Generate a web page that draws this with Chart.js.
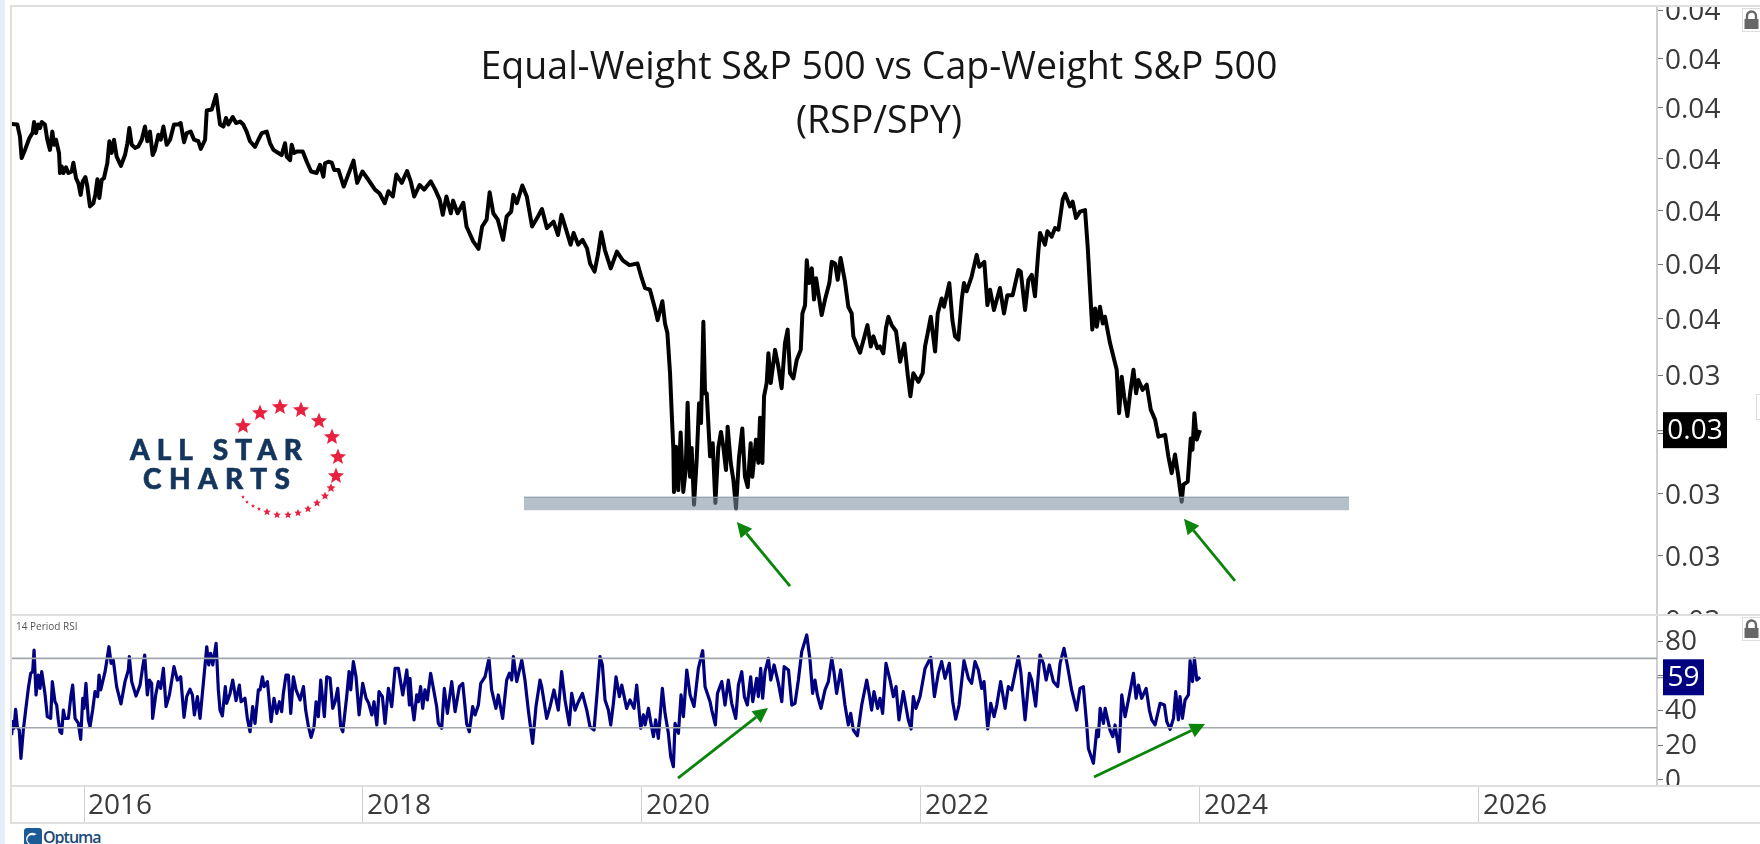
<!DOCTYPE html>
<html>
<head>
<meta charset="utf-8">
<title>Equal-Weight S&amp;P 500 vs Cap-Weight S&amp;P 500</title>
<script src="https://cdn.jsdelivr.net/npm/chart.js@4/dist/chart.umd.js"></script>
<style>
html,body{margin:0;padding:0;background:#fff;width:1760px;height:844px;overflow:hidden;font-family:"Open Sans",sans-serif}
canvas{position:absolute;left:0;display:block}
#priceCanvas{top:6px;z-index:1}
#rsiCanvas{top:615px;z-index:2;background:#fff}
.abs{position:absolute}
.hline{position:absolute;height:2px;background:#dfdfdf;z-index:4}
#strip{left:0;top:0;width:5px;height:844px;background:#e4eef8;z-index:5}
#title{left:400px;width:958px;top:38px;text-align:center;font-size:37.5px;line-height:54px;color:#161616;z-index:6}
#rsiName{left:16px;top:619px;font-size:10px;color:#555;z-index:6}
#axisCover{left:1658px;top:786px;width:102px;height:58px;background:#fff;z-index:3}
.lock{position:absolute;left:1742px;width:18px;height:24px;box-sizing:border-box;border:1px solid #ddd;border-right:none;background:#fff;z-index:6}
#logo{left:100px;top:380px;z-index:6}
#optuma{left:24px;top:828px;z-index:6;height:16px;overflow:hidden;display:flex;align-items:flex-start}
#optuma b{font-size:16px;line-height:18px;color:#1b4a78;letter-spacing:-1px;font-weight:600;margin-left:1px}
#sideBox{left:1756px;top:394px;width:4px;height:26px;box-sizing:border-box;border:1px solid #ddd;border-right:none;z-index:6}
</style>
</head>
<body>
<div class="abs" id="strip"></div>
<canvas id="priceCanvas" width="1760" height="634"></canvas>
<canvas id="rsiCanvas" width="1760" height="208"></canvas>
<div class="abs" id="axisCover"></div>
<div class="hline" style="left:10px;top:5px;width:1750px"></div>
<div class="hline" style="left:10px;top:614px;width:1750px"></div>
<div class="hline" style="left:10px;top:785px;width:1750px"></div>
<div class="hline" style="left:10px;top:822px;width:1750px"></div>
<div class="abs" style="left:10px;top:5px;width:2px;height:819px;background:#dfdfdf;z-index:4"></div>
<div class="abs" id="title">Equal-Weight S&amp;P 500 vs Cap-Weight S&amp;P 500<br>(RSP/SPY)</div>
<div class="abs" id="rsiName">14 Period RSI</div>
<div class="lock" style="top:8px"><svg width="17" height="22" viewBox="0 0 17 22"><path d="M4 10V7a4.5 4.5 0 0 1 9 0v3" fill="none" stroke="#666" stroke-width="2.4"/><rect x="1.5" y="10" width="14" height="10" fill="#666"/></svg></div>
<div class="lock" style="top:617px"><svg width="17" height="22" viewBox="0 0 17 22"><path d="M4 10V7a4.5 4.5 0 0 1 9 0v3" fill="none" stroke="#666" stroke-width="2.4"/><rect x="1.5" y="10" width="14" height="10" fill="#666"/></svg></div>
<div class="abs" id="sideBox"></div>
<svg class="abs" id="logo" width="280" height="160" viewBox="0 0 280 160">
  <g id="logoStars" fill="#e8213f"></g>
  <text x="30" y="80" textLength="172" lengthAdjust="spacing" font-family="Lato" font-weight="900" font-size="28" fill="#14365c" stroke="#14365c" stroke-width=".6">ALL STAR</text>
  <text x="43" y="109" textLength="147" lengthAdjust="spacing" font-family="Lato" font-weight="900" font-size="28" fill="#14365c" stroke="#14365c" stroke-width=".6">CHARTS</text>
</svg>
<div class="abs" id="optuma"><svg width="18" height="18" viewBox="0 0 17 17"><rect width="17" height="17" rx="3" fill="#1b5c96"/><path d="M4 15a6 6 0 0 1 8-9l-3 1a4 4 0 0 0-3 8z" fill="#fff"/></svg><b>Optuma</b></div>

<script>
// ---------- chart text ----------
const xTickYears = [2016, 2018, 2020, 2022, 2024, 2026];
const priceTicks = [0.030, 0.031, 0.032, 0.033, 0.034, 0.035, 0.036, 0.037, 0.038, 0.039, 0.040, 0.041];
const rsiTicks = [0, 20, 40, 60, 80];
const rsiLevels = [70, 30];

// ---------- RSP/SPY ratio ----------
const priceYears = [
2015.481,2015.522,2015.541,2015.553,2015.577,2015.608,2015.632,2015.642,2015.656,2015.670,
2015.685,2015.697,2015.720,2015.737,2015.756,2015.773,2015.785,2015.799,2015.821,2015.828,
2015.840,2015.852,2015.871,2015.888,2015.912,2015.924,2015.943,2015.960,2015.976,2015.991,
2016.010,2016.024,2016.043,2016.067,2016.081,2016.096,2016.110,2016.127,2016.143,2016.167,
2016.182,2016.198,2016.215,2016.234,2016.265,2016.294,2016.311,2016.325,2016.342,2016.366,
2016.390,2016.414,2016.437,2016.454,2016.473,2016.492,2016.509,2016.533,2016.550,2016.569,
2016.593,2016.617,2016.645,2016.676,2016.693,2016.717,2016.736,2016.765,2016.789,2016.820,
2016.837,2016.868,2016.880,2016.916,2016.947,2016.975,2016.999,2017.018,2017.035,2017.066,
2017.090,2017.119,2017.142,2017.166,2017.190,2017.226,2017.250,2017.274,2017.310,2017.334,
2017.358,2017.393,2017.417,2017.441,2017.453,2017.477,2017.489,2017.506,2017.525,2017.568,
2017.597,2017.628,2017.668,2017.692,2017.716,2017.728,2017.752,2017.776,2017.793,2017.824,
2017.862,2017.894,2017.932,2017.958,2017.996,2018.038,2018.086,2018.118,2018.156,2018.182,
2018.214,2018.239,2018.278,2018.316,2018.342,2018.367,2018.406,2018.438,2018.486,2018.518,
2018.550,2018.572,2018.598,2018.630,2018.646,2018.678,2018.719,2018.742,2018.790,2018.828,
2018.854,2018.886,2018.908,2018.934,2018.966,2019.004,2019.030,2019.062,2019.078,2019.103,
2019.142,2019.174,2019.212,2019.254,2019.283,2019.318,2019.366,2019.398,2019.423,2019.456,
2019.488,2019.510,2019.542,2019.574,2019.606,2019.628,2019.660,2019.686,2019.708,2019.734,
2019.776,2019.820,2019.862,2019.910,2019.968,
2019.998,2020.022,2020.057,2020.093,2020.112,2020.124,2020.146,2020.165,2020.182,2020.201,
2020.213,2020.225,2020.229,2020.244,2020.260,2020.277,2020.296,2020.313,2020.327,2020.344,
2020.356,2020.373,2020.392,2020.409,2020.423,2020.440,2020.452,2020.464,2020.488,2020.507,
2020.526,2020.547,2020.566,2020.583,2020.602,2020.614,2020.636,2020.655,2020.674,2020.695,
2020.719,2020.738,2020.758,2020.779,2020.791,2020.817,2020.834,2020.846,2020.863,2020.875,
2020.894,2020.906,2020.923,2020.954,2020.977,2021.001,2021.025,2021.044,2021.061,2021.085,
2021.109,2021.138,2021.150,2021.169,2021.181,2021.197,2021.217,2021.233,2021.248,2021.288,
2021.312,2021.343,2021.360,2021.384,2021.403,2021.424,2021.455,2021.479,2021.503,2021.515,
2021.539,2021.563,2021.592,2021.616,2021.640,2021.659,2021.687,2021.706,2021.730,2021.749,
2021.766,2021.790,2021.821,2021.850,2021.881,2021.905,2021.924,2021.945,2021.981,2022.012,
2022.029,2022.046,2022.070,2022.101,2022.120,
2022.148,2022.165,2022.203,2022.225,2022.244,2022.268,2022.292,2022.308,2022.327,2022.363,
2022.399,2022.418,2022.454,2022.476,2022.495,2022.523,2022.566,2022.595,2022.619,2022.657,
2022.698,2022.715,2022.746,2022.770,2022.794,2022.817,2022.841,2022.853,2022.889,2022.906,
2022.937,2022.961,2022.985,2023.016,2023.033,2023.068,2023.087,2023.111,2023.140,2023.176,
2023.195,2023.212,2023.228,2023.248,2023.260,2023.283,2023.303,2023.319,2023.355,2023.403,
2023.420,2023.439,2023.456,2023.480,2023.499,2023.523,2023.542,2023.558,2023.589,2023.618,
2023.647,2023.678,2023.702,2023.750,2023.773,2023.797,2023.821,2023.845,2023.869,2023.881,
2023.912,2023.934,2023.946,2023.960,2023.977,2024.000
];
const priceValues = [
.03868,.03867,.03843,.03801,.03817,.03840,.03851,.03872,.03850,.03867,
.03860,.03872,.03867,.03837,.03817,.03853,.03827,.03837,.03811,.03772,
.03785,.03772,.03783,.03772,.03775,.03792,.03762,.03752,.03730,.03756,
.03764,.03746,.03708,.03714,.03730,.03760,.03724,.03759,.03762,.03791,
.03834,.03811,.03837,.03804,.03786,.03807,.03830,.03860,.03827,.03821,
.03824,.03837,.03863,.03834,.03853,.03807,.03817,.03847,.03837,.03863,
.03827,.03837,.03867,.03867,.03870,.03832,.03850,.03853,.03837,.03834,
.03819,.03837,.03895,.03897,.03926,.03867,.03863,.03880,.03867,.03882,
.03870,.03873,.03867,.03853,.03834,.03823,.03837,.03850,.03853,.03830,
.03817,.03811,.03807,.03830,.03804,.03797,.03827,.03811,.03814,.03814,
.03794,.03775,.03772,.03788,.03765,.03791,.03794,.03792,.03778,.03778,
.03746,.03769,.03796,.03753,.03775,.03759,.03740,.03733,.03714,.03737,
.03727,.03769,.03753,.03776,.03756,.03727,.03749,.03740,.03756,.03740,
.03721,.03692,.03727,.03695,.03719,.03695,.03715,.03670,.03642,.03628,
.03670,.03683,.03735,.03695,.03683,.03645,.03689,.03698,.03730,.03714,
.03748,.03727,.03670,.03689,.03703,.03667,.03679,.03654,.03692,.03664,
.03636,.03658,.03636,.03645,.03629,.03601,.03586,.03620,.03659,.03626,
.03592,.03623,.03607,.03598,.03601,
.03574,.03556,.03553,.03519,.03498,.03510,.03532,.03492,.03475,.03404,
.03335,.03273,.03203,.03278,.03206,.03302,.03203,.03239,.03353,.03228,
.03276,.03182,.03256,.03352,.03318,.03495,.03369,.03369,.03262,.03284,
.03185,.03276,.03303,.03278,.03239,.03312,.03251,.03223,.03176,.03259,
.03309,.03228,.03211,.03284,.03228,.03290,.03251,.03327,.03251,.03364,
.03387,.03439,.03387,.03445,.03416,.03378,.03457,.03481,.03404,.03395,
.03427,.03445,.03510,.03525,.03607,.03565,.03592,.03535,.03574,.03507,
.03535,.03565,.03604,.03601,.03571,.03611,.03568,.03522,.03510,.03469,
.03454,.03440,.03466,.03489,.03451,.03469,.03448,.03451,.03439,.03484,
.03504,.03489,.03478,.03424,.03456,.03401,.03364,.03404,.03389,.03404,
.03451,.03472,.03504,.03442,.03510,
.03537,.03522,.03565,.03498,.03469,.03463,.03535,.03565,.03550,.03577,
.03617,.03595,.03604,.03525,.03553,.03516,.03556,.03510,.03543,.03543,
.03589,.03586,.03516,.03571,.03580,.03541,.03623,.03658,.03636,.03661,
.03651,.03667,.03664,.03721,.03732,.03708,.03717,.03686,.03698,.03701,
.03632,.03553,.03481,.03519,.03486,.03522,.03492,.03504,.03457,.03410,
.03335,.03398,.03364,.03330,.03369,.03410,.03369,.03392,.03375,.03384,
.03341,.03324,.03295,.03298,.03262,.03234,.03265,.03228,.03187,.03215,
.03220,.03292,.03273,.03335,.03290,.03306
];

// ---------- 14 period RSI ----------
const rsiYears = [
2015.481,2015.489,2015.498,2015.510,2015.522,2015.536,2015.548,2015.565,2015.582,2015.601,
2015.618,2015.632,2015.642,2015.656,2015.673,2015.685,2015.697,2015.720,2015.737,2015.761,
2015.773,2015.792,2015.804,2015.816,2015.828,2015.840,2015.852,2015.864,2015.888,2015.907,
2015.919,2015.936,2015.960,2015.976,2015.991,2016.000,2016.014,2016.031,2016.043,2016.062,
2016.079,2016.098,2016.108,2016.120,2016.151,2016.179,2016.194,2016.210,2016.234,2016.265,
2016.294,2016.318,2016.325,2016.342,2016.373,2016.402,2016.421,2016.435,2016.454,2016.469,
2016.485,2016.492,2016.514,2016.533,2016.550,2016.569,2016.588,2016.612,2016.645,2016.669,
2016.693,2016.717,2016.736,2016.760,2016.777,2016.791,2016.813,2016.832,2016.851,2016.880,
2016.894,2016.908,2016.923,2016.947,2016.963,2016.975,2016.992,2017.013,2017.023,2017.047,
2017.066,2017.090,2017.114,2017.126,2017.154,2017.171,2017.190,2017.209,2017.226,2017.250,
2017.262,2017.279,2017.291,2017.315,2017.341,2017.362,2017.382,2017.401,2017.417,2017.429,
2017.448,2017.465,2017.482,2017.501,2017.520,2017.549,2017.573,2017.589,2017.609,2017.628,
2017.649,2017.664,2017.680,2017.697,2017.723,2017.740,2017.764,2017.783,2017.800,2017.819,
2017.840,2017.855,2017.883,2017.900,2017.912,2017.931,2017.950,2017.972,2017.998,2018.022,
2018.041,2018.063,2018.079,2018.099,2018.115,2018.139,2018.158,2018.182,2018.206,2018.230,
2018.254,2018.285,2018.314,2018.333,
2018.337,2018.349,2018.366,2018.385,2018.397,2018.413,2018.428,2018.444,2018.461,2018.485,
2018.509,2018.528,2018.540,2018.564,2018.583,2018.605,2018.636,2018.660,2018.691,2018.715,
2018.743,2018.762,2018.786,2018.803,2018.827,2018.844,2018.875,2018.903,2018.922,2018.953,
2018.970,2019.001,2019.030,2019.049,2019.066,2019.078,2019.102,2019.138,2019.161,2019.185,
2019.216,2019.240,2019.269,2019.281,2019.317,2019.341,2019.369,2019.400,2019.424,2019.448,
2019.479,2019.496,2019.520,2019.544,2019.573,2019.604,2019.627,2019.656,2019.680,2019.699,
2019.716,2019.735,2019.759,2019.776,2019.795,2019.814,2019.838,2019.855,2019.890,2019.914,
2019.943,2019.962,2019.991,2020.010,2020.022,2020.046,2020.062,2020.082,2020.098,2020.117,
2020.146,2020.165,2020.189,2020.206,2020.225,2020.237,2020.261,2020.280,2020.297,2020.321,
2020.345,2020.373,2020.404,2020.435,2020.452,2020.488,2020.500,2020.526,2020.541,2020.572,
2020.595,2020.619,2020.643,2020.672,2020.691,2020.715,2020.734,2020.755,2020.779,2020.794,
2020.822,2020.834,2020.851,2020.865,2020.882,2020.906,2020.923,2020.947,2020.978,2021.002,
2021.019,2021.050,2021.074,2021.097,2021.121,2021.145,2021.181,
2021.204,2021.223,2021.240,2021.257,2021.283,2021.312,2021.336,2021.360,2021.376,2021.395,
2021.424,2021.455,2021.479,2021.496,2021.515,2021.544,2021.575,2021.611,2021.630,2021.646,
2021.663,2021.689,2021.706,2021.725,2021.749,2021.778,2021.802,2021.821,2021.842,2021.873,
2021.909,2021.929,2021.945,2021.964,2021.993,2022.029,2022.070,2022.096,2022.124,2022.148,
2022.172,2022.203,2022.227,2022.249,2022.273,2022.308,2022.340,2022.363,2022.387,2022.411,
2022.435,2022.452,2022.478,2022.500,2022.524,2022.543,2022.571,2022.603,2022.626,2022.650,
2022.674,2022.698,2022.715,2022.746,2022.777,2022.794,2022.822,2022.853,2022.877,2022.897,
2022.920,2022.949,2022.980,2022.997,2023.025,2023.049,2023.080,2023.116,2023.140,2023.164,
2023.188,2023.200,2023.236,2023.260,2023.272,2023.284,2023.308,2023.320,2023.355,2023.375,
2023.391,2023.420,2023.439,2023.463,2023.487,2023.523,2023.542,2023.559,2023.582,2023.614,
2023.637,2023.654,2023.678,2023.714,2023.745,2023.762,2023.786,2023.810,2023.826,2023.845,
2023.857,2023.874,2023.893,2023.917,2023.929,2023.946,2023.960,2023.977,2024.001
];
const rsiValues = [
25.8,33.5,29.7,40.6,30.6,28.7,12.4,28.7,40.2,52.7,
61.4,62.3,74.8,48.9,60.4,52.7,62.3,49.8,36.4,35.4,
56.6,45.0,43.1,34.5,27.7,26.8,40.2,35.4,35.4,48.9,
54.6,35.4,32.5,23.3,47.0,41.2,55.6,34.5,30.6,40.2,
50.8,47.9,60.4,51.8,62.3,76.7,67.1,69.0,53.7,43.7,
56.6,63.3,71.0,56.6,48.3,54.6,65.2,71.9,48.9,57.5,
55.6,35.4,48.9,56.6,52.7,64.2,42.2,48.9,65.2,57.5,
59.4,36.0,47.9,52.2,48.9,37.4,47.9,35.4,51.8,76.7,
66.2,72.9,66.2,78.7,51.8,40.2,36.8,53.7,44.1,49.8,
57.5,45.6,54.6,45.0,47.0,35.4,27.7,42.2,32.5,51.8,
51.8,59.4,53.7,56.6,33.5,47.0,38.3,45.0,39.3,49.8,
60.4,60.4,38.3,59.4,51.8,46.0,53.7,40.2,30.6,24.5,
30.6,45.0,36.4,57.5,36.4,59.4,58.5,41.2,45.0,52.7,
30.6,27.7,47.9,62.3,51.8,68.1,59.4,37.4,55.6,47.0,
44.1,37.4,45.0,31.6,50.8,47.9,32.5,52.7,42.2,64.2,
64.2,48.9,63.3,43.1,
58.5,45.0,34.5,48.9,45.0,53.7,41.2,51.8,46.0,61.4,
50.8,42.2,32.5,29.7,52.7,38.3,56.6,39.3,53.7,55.6,
32.5,27.7,42.2,37.4,43.1,55.6,59.4,70.0,51.8,41.2,
48.9,35.4,57.5,61.4,57.5,71.0,56.6,69.0,57.5,40.2,
21.0,42.2,57.5,53.7,35.4,42.2,51.8,40.2,62.3,46.0,
31.6,49.8,40.2,45.0,49.8,40.2,30.6,28.7,51.8,71.0,
66.2,46.0,40.2,31.6,44.1,59.4,47.9,54.6,41.2,46.0,
41.2,54.6,29.7,37.4,31.6,41.2,33.5,24.9,34.5,23.9,
52.7,38.3,26.8,13.3,7.6,32.5,26.8,48.9,36.4,63.3,
48.9,42.2,64.2,74.4,53.7,45.0,40.2,31.6,49.8,56.6,
43.1,57.5,44.1,35.4,54.6,62.3,47.9,43.1,59.4,45.0,
58.5,47.9,64.2,47.0,62.3,70.0,57.5,66.2,55.6,45.0,
65.2,63.3,43.1,44.1,57.5,73.9,83.5,
69.4,49.8,57.5,48.9,41.2,51.8,56.6,70.0,62.3,49.8,
63.3,43.1,31.6,38.3,28.7,25.4,43.1,57.5,48.9,40.2,
50.8,41.2,47.0,38.3,67.1,57.5,47.9,53.7,34.5,50.8,
34.5,29.3,47.9,41.2,47.9,64.2,70.6,47.9,61.4,68.1,
58.5,67.1,45.0,34.9,43.1,68.7,58.5,55.6,68.1,63.3,
52.7,56.6,29.3,44.1,36.4,43.1,56.6,41.2,53.7,51.8,
61.4,71.0,62.3,34.5,61.4,57.5,42.5,71.9,67.1,57.5,
66.2,56.6,53.7,67.1,75.8,66.2,51.8,40.2,52.7,53.7,
31.6,18.1,9.5,28.7,24.9,41.2,32.5,41.2,28.7,24.9,
31.6,16.2,48.9,36.4,46.0,61.4,47.0,54.6,47.0,52.7,
40.2,34.5,31.6,44.1,43.1,33.5,29.1,35.4,50.8,34.5,
47.9,35.4,46.0,48.9,68.7,56.6,70.0,57.5,59.1
];

// ---------- annotations, in data units ----------
const bandYears = [2019.154, 2025.068];
const bandValues = [0.03173, 0.03195];
const priceArrows = [
  {from: [2021.061, 0.03052], to: [2020.680, 0.03154]},
  {from: [2024.251, 0.03060], to: [2023.885, 0.03159]}
];
const rsiArrows = [
  {from: [2020.258, 1.0], to: [2020.903, 41.4]},
  {from: [2023.240, 1.6], to: [2024.036, 32.2]}
];

const xMin = 2015.4767, xMax = 2027.276;
const FONT = '"Open Sans", sans-serif';
const GREEN = '#0b840b';

function zip(xs, ys) { return xs.map((x, i) => ({x, y: ys[i]})); }

function drawArrows(chart, arrows) {
  const {ctx, scales:{x, y}} = chart;
  ctx.save();
  ctx.strokeStyle = GREEN; ctx.fillStyle = GREEN; ctx.lineWidth = 2.8;
  arrows.forEach(a => {
    const x1 = x.getPixelForValue(a.from[0]), y1 = y.getPixelForValue(a.from[1]);
    const x2 = x.getPixelForValue(a.to[0]), y2 = y.getPixelForValue(a.to[1]);
    const ang = Math.atan2(y2 - y1, x2 - x1), L = 15, W = 7.5;
    const bx = x2 - L * Math.cos(ang), by = y2 - L * Math.sin(ang);
    ctx.beginPath(); ctx.moveTo(x1, y1); ctx.lineTo(bx, by); ctx.stroke();
    ctx.beginPath(); ctx.moveTo(x2, y2);
    ctx.lineTo(bx - W * Math.sin(ang), by + W * Math.cos(ang));
    ctx.lineTo(bx + W * Math.sin(ang), by - W * Math.cos(ang));
    ctx.closePath(); ctx.fill();
  });
  ctx.restore();
}

function drawTag(chart, value, text, bg, w) {
  const {ctx, scales:{y}, chartArea} = chart;
  const py = y.getPixelForValue(value);
  ctx.save();
  ctx.strokeStyle = '#777'; ctx.lineWidth = 1;
  ctx.beginPath(); ctx.moveTo(chartArea.right, py + .5); ctx.lineTo(chartArea.right + 6, py + .5); ctx.stroke();
  ctx.fillStyle = bg;
  ctx.fillRect(chartArea.right + 6, py - 18, w, 36);
  ctx.fillStyle = '#fff';
  ctx.font = '28px ' + FONT;
  ctx.textAlign = 'center'; ctx.textBaseline = 'middle';
  ctx.fillText(text, chartArea.right + 6 + w / 2, py + 1);
  ctx.restore();
}

function yFit(scale) { scale.width = 103; scale.paddingTop = 0; scale.paddingBottom = 0; }

const yBase = {
  position: 'right',
  bounds: 'data',
  border: {color: '#cfcfcf', width: 2},
  grid: {drawOnChartArea: false, tickLength: 6, tickColor: '#777', tickWidth: 1},
  afterFit: yFit
};
const yTickFont = {
  autoSkip: false, padding: 2, color: '#3a3a3a',
  font: {family: FONT, size: 28}
};

new Chart(document.getElementById('priceCanvas'), {
  type: 'line',
  data: {datasets: [{
    label: 'RSP/SPY',
    data: zip(priceYears, priceValues),
    borderColor: '#000', borderWidth: 4, pointRadius: 0, tension: 0,
    borderJoinStyle: 'round', fill: false
  }]},
  options: {
    responsive: false, animation: false, devicePixelRatio: 1,
    layout: {padding: {left: 11, top: 0, right: 0, bottom: 0}},
    plugins: {legend: {display: false}, tooltip: {enabled: false}},
    scales: {
      x: {type: 'linear', min: xMin, max: xMax, display: false},
      y: Object.assign({}, yBase, {
        type: 'logarithmic', min: 0.029687, max: 0.041094,
        afterBuildTicks: s => { s.ticks = priceTicks.map(value => ({value})); },
        ticks: Object.assign({}, yTickFont, {labelOffset: 2, callback: v => Number(v).toFixed(2)})
      })
    }
  },
  plugins: [{
    id: 'priceMarks',
    afterDatasetsDraw(chart) {
      const {ctx, scales:{x, y}} = chart;
      const x0 = x.getPixelForValue(bandYears[0]), x1 = x.getPixelForValue(bandYears[1]);
      const y0 = y.getPixelForValue(bandValues[1]), y1 = y.getPixelForValue(bandValues[0]);
      ctx.save();
      ctx.fillStyle = 'rgba(125,142,161,.56)';
      ctx.fillRect(x0, y0, x1 - x0, y1 - y0);
      ctx.fillStyle = '#8f9cab';
      ctx.fillRect(x0, y0, x1 - x0, 1);
      ctx.restore();
      drawArrows(chart, priceArrows);
    },
    afterDraw(chart) {
      const last = priceValues[priceValues.length - 1];
      drawTag(chart, last, last.toFixed(2), '#000', 64);
    }
  }]
});

new Chart(document.getElementById('rsiCanvas'), {
  type: 'line',
  data: {datasets: [
    {label: 'Upper level', data: zip([xMin, xMax], [rsiLevels[0], rsiLevels[0]]),
     borderColor: '#a2a7ae', borderWidth: 1.6, pointRadius: 0},
    {label: 'Lower level', data: zip([xMin, xMax], [rsiLevels[1], rsiLevels[1]]),
     borderColor: '#a2a7ae', borderWidth: 1.6, pointRadius: 0},
    {label: '14 Period RSI', data: zip(rsiYears, rsiValues),
     borderColor: '#000080', borderWidth: 3.2, pointRadius: 0, tension: 0, borderJoinStyle: 'round'}
  ]},
  options: {
    responsive: false, animation: false, devicePixelRatio: 1,
    layout: {padding: {left: 11, top: 0, right: 0, bottom: 0}},
    plugins: {legend: {display: false}, tooltip: {enabled: false}},
    scales: {
      x: {
        type: 'linear', min: xMin, max: xMax, position: 'bottom',
        border: {display: false},
        grid: {drawOnChartArea: false, tickLength: 37, color: '#cfcfcf'},
        afterBuildTicks: s => { s.ticks = xTickYears.map(value => ({value})); },
        afterFit: s => { s.height = 37; s.paddingLeft = 0; s.paddingRight = 0; },
        ticks: {
          autoSkip: false, maxRotation: 0, align: 'start', labelOffset: 4, padding: -34,
          color: '#3a3a3a', font: {family: FONT, size: 28},
          callback: v => String(v)
        }
      },
      y: Object.assign({}, yBase, {
        type: 'linear', min: -3.57, max: 94.99,
        afterBuildTicks: s => { s.ticks = rsiTicks.map(value => ({value})); },
        ticks: Object.assign({}, yTickFont, {labelOffset: 1, callback: v => String(v)})
      })
    }
  },
  plugins: [{
    id: 'rsiMarks',
    afterDatasetsDraw(chart) { drawArrows(chart, rsiArrows); },
    afterDraw(chart) {
      const last = rsiValues[rsiValues.length - 1];
      drawTag(chart, last, last.toFixed(0), '#000080', 41);
    }
  }]
});

// logo stars
const starSpots = [[143,46,8.5],[160,33,8.5],[180,27,8.5],[201,30,8.5],[219,41,8.5],[232,57,8.5],[238,77,8.5],[236,96,8.5],
[231,108,4.8],[225,116,4.4],[217,123,4.2],[208,129,4],[198,133,4],[188,135,4],[177,135,4],[167,132,4],[159,129,2.2],[153,126,2.2],[147,122,2],[143,117,2]];
const starG = document.getElementById('logoStars');
starSpots.forEach(([cx, cy, r]) => {
  const pts = [];
  for (let i = 0; i < 10; i++) {
    const a = -Math.PI / 2 + i * Math.PI / 5, q = i % 2 ? r * .45 : r;
    pts.push((cx + q * Math.cos(a)).toFixed(1) + ',' + (cy + q * Math.sin(a)).toFixed(1));
  }
  const p = document.createElementNS('http://www.w3.org/2000/svg', 'polygon');
  p.setAttribute('points', pts.join(' '));
  starG.appendChild(p);
});
</script>
</body>
</html>
